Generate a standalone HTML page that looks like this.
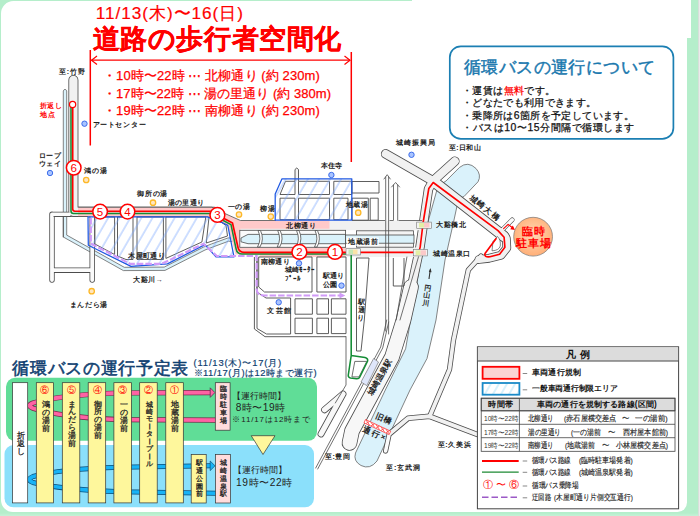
<!DOCTYPE html>
<html lang="ja">
<head>
<meta charset="utf-8">
<title>道路の歩行者空間化・循環バスの運行について</title>
<style>
html,body{margin:0;padding:0;}
body{width:700px;height:516px;overflow:hidden;background:#b5eecb;font-family:"Liberation Sans",sans-serif;}
#wrap{position:relative;width:700px;height:516px;overflow:hidden;background:linear-gradient(#b5eecb 0,#b5eecb 513px,#c6f2d7 516px);}
#paper{position:absolute;left:1.3px;top:0.7px;width:685.8px;height:511.7px;background:#fff;border-radius:12.5px 0 9.5px 12px;}
#edgeR{position:absolute;left:698.2px;top:0;width:1.8px;height:516px;background:linear-gradient(90deg,#cfd8d2,#f2f2f2);}
#paperTR{position:absolute;left:412px;top:0;width:278.6px;height:38px;background:#fff;}
svg#map{position:absolute;left:0;top:0;}
.t{position:absolute;white-space:nowrap;line-height:1;color:#111;}
.j{text-align:justify;text-align-last:justify;text-justify:inter-character;}
.b{font-weight:bold;}
.red{color:#ff0000;}
.v{writing-mode:vertical-rl;text-orientation:upright;}
</style>
</head>
<body>
<div id="wrap">
<div id="paper"></div>
<div id="paperTR"></div>
<div id="edgeR"></div>
<svg id="map" width="700" height="516" viewBox="0 0 700 516">
<defs>
<pattern id="hatch" width="9.6" height="12" patternUnits="userSpaceOnUse" patternTransform="rotate(30)">
<rect x="0" y="0" width="9.6" height="12" fill="#fff"/><line x1="1" y1="-1" x2="1" y2="13" stroke="#7fb0ff" stroke-width="0.75"/>
</pattern>
<pattern id="hatch2" width="7" height="12" patternUnits="userSpaceOnUse" patternTransform="rotate(30)">
<rect x="0" y="0" width="7" height="12" fill="#fff"/><line x1="1" y1="-1" x2="1" y2="13" stroke="#8fd6f5" stroke-width="0.7"/>
</pattern>
<pattern id="hatchT" width="9.6" height="12" patternUnits="userSpaceOnUse" patternTransform="rotate(30)"><line x1="1" y1="-1" x2="1" y2="13" stroke="#74a3ff" stroke-width="0.72"/></pattern>
<radialGradient id="pk" cx="50%" cy="45%" r="60%"><stop offset="0" stop-color="#ffd9b5"/><stop offset="1" stop-color="#ffab72"/></radialGradient>
</defs>
<!-- ===== rivers ===== -->
<g fill="#daf2fb" stroke="#666" stroke-width="0.8" stroke-linejoin="round">
<!-- Maruyama river -->
<path d="M446,181 L459.5,167.4 Q468,160.6 476,168.5 Q481.8,175 478,181.8 L464,196.5 L458.5,199 L454,220 L445,260 L436,320 L427,358.5 L410,390 L377,461 Q370,470 361,465.5 Q353,461 355.5,453 L385.3,390 L405.6,348.8 L412.4,310 L425.5,231 L438,186 Z"/>
<!-- Otani river west strip + diagonal -->
<path d="M63.3,91 Q65,87.5 66.7,91 L66.7,235.1 L124.3,267.3 L164.2,267.1 L203.7,247 L211.7,243.9 L228.1,237.9 L242.3,238.2 L242,242.3 L228.6,241.2 L212.9,247 L205,250 L165,270.4 L123.4,270.6 L63.3,237 Z"/>
</g>
<!-- ===== road casings ===== -->
<g fill="none" stroke="#4c4c4c" stroke-linecap="round" stroke-linejoin="round">
<path d="M73.4,80 L73.4,211.7 L214,211.7" stroke-width="10"/>
<path d="M52,214.3 L52,280 M92.2,217 L92.2,280 M52,270.2 L92.2,270.2 M52,214.4 L69,214.4" stroke-width="5.4"/>
<path d="M385.7,153.9 L433,181" stroke-width="9.6"/>
<path d="M433,181 L504,236.5" stroke-width="11.4"/>
<path d="M433,181 L454.8,161.3" stroke-width="9.6"/>
<path d="M433,181 L428.5,189 L420,247 L413,280 L405,315" stroke-width="9.4"/>
<path d="M503.3,228.8 L512.2,219.8" stroke-width="4.6"/>
<path d="M500,231.5 L506.3,238.2 L506.8,248 L501,255.3 L489,258.3 L479,259.5" stroke-width="8.8"/>
<path d="M481,256 L468.3,270 L453.5,340 L449.5,369.5 L429.7,416.3" stroke-width="5.3"/>
<path d="M429.7,416.3 L480,435.5 M429.7,416.3 L408,418.3 L390.5,433" stroke-width="5.6"/>
<path d="M389.3,433.5 L385.6,451" stroke-width="5.2"/>
<!-- station-side band -->
<path d="M411,287 L403.5,320 L392,357 L352,431 L349.5,443" stroke-width="15.6"/>
<path d="M343,394 L324.5,409.8 M343,394 L321,434" stroke-width="6.8"/>
</g>
<!-- horizontal band roads (casing as rect outlines) -->
<g fill="#f1f1f1" stroke="#4c4c4c" stroke-width="0.8">
<rect x="240.4" y="220.6" width="182" height="9.6" stroke="none"/>
<rect x="258" y="247.4" width="163" height="9.6" stroke="none"/>
</g>
<!-- ===== road fills ===== -->
<g fill="none" stroke="#f1f1f1" stroke-linecap="round" stroke-linejoin="round">
<path d="M73.4,80 L73.4,211.7 L214,211.7" stroke-width="8.4"/>
<path d="M52,214.3 L52,280 M92.2,217 L92.2,280 M52,270.2 L92.2,270.2 M52,214.4 L69,214.4" stroke-width="3.8" stroke="#fbfbfb"/>
<path d="M385.7,153.9 L433,181" stroke-width="8"/>
<path d="M433,181 L504,236.5" stroke-width="9.8"/>
<path d="M433,181 L454.8,161.3" stroke-width="8"/>
<path d="M433,181 L428.5,189 L420,247 L413,280 L405,315" stroke-width="7.8"/>
<path d="M503.3,228.8 L512.2,219.8" stroke-width="3.6" stroke="#fbfbfb"/>
<path d="M500,231.5 L506.3,238.2 L506.8,248 L501,255.3 L489,258.3 L479,259.5" stroke-width="7.2"/>
<path d="M481,256 L468.3,270 L453.5,340 L449.5,369.5 L429.7,416.3" stroke-width="3.7"/>
<path d="M429.7,416.3 L480,435.5 M429.7,416.3 L408,418.3 L390.5,433" stroke-width="4"/>
<path d="M389.3,433.5 L385.6,451" stroke-width="3.6" stroke="#fbfbfb"/>
<path d="M411,287 L403.5,320 L392,357 L352,431 L349.5,443" stroke-width="14" stroke="#f7f7f7"/>
<path d="M343,394 L324.5,409.8 M343,394 L321,434" stroke-width="5.2" stroke="#f8f8f8"/>
</g>
<!-- loop island -->
<path d="M493,241.5 L497.5,236.5 Q501,240 500.3,246 Q499,250.5 492,250.8 Z" fill="#fff" stroke="#555" stroke-width="0.7"/>
<!-- ===== pink pedestrian zones ===== -->
<path d="M78,207.4 L212,207.4 L224.6,213.6 L240.4,220.7 L329.5,220.7 L329.5,228.8 L240.4,228.8 L240.4,247.6 L345.5,247.6 L345.5,257 L260,257 L260,254.5 L235.5,254.5 L228,226 L208,216.5 L78,216.5 Z" fill="#ffc9c9"/>
<!-- gray edges around the pink / band roads -->
<g fill="none" stroke="#4c4c4c" stroke-width="0.8" stroke-linejoin="round">
<path d="M78.2,207.2 L212,207.2 L224.6,213.4 L240.4,220.5 L276,220.5"/>
<path d="M352,220.5 L385,220.5 M389.5,220.5 L393,220.5 M398.5,220.5 L422,220.5"/>
<path d="M53.5,216.5 L88,216.5"/>
</g>
<!-- Otani river central band -->
<g stroke="#4c4c4c" stroke-width="0.8">
<rect x="239.8" y="230.3" width="105.8" height="17" fill="#fbfbfb"/>
<path d="M241,238 L248,234.4 L345.6,234.4 L345.6,243.7 L248,243.7 L241,241.8 Z" fill="#daf2fb"/>
<path d="M258,230.5 Q262,239 257.5,247 L260,247 Q264.5,239 260.5,230.5 Z M277.7,230.5 Q281.7,239 277.2,247 L279.7,247 Q284.2,239 280.2,230.5 Z M296.5,230.5 Q300.5,239 296,247 L298.5,247 Q303,239 299,230.5 Z M315,230.5 Q319,239 314.5,247 L317,247 Q321.5,239 317.5,230.5 Z" fill="#fff"/>
<!-- east part -->
<rect x="356.5" y="230.8" width="57" height="16.4" fill="#f4f4f4"/>
<rect x="345.5" y="235" width="68.5" height="8.2" fill="#daf2fb"/>
</g>
<!-- blocks inside west hatched area -->
<g fill="#fff" stroke="#4c4c4c" stroke-width="0.9" stroke-linejoin="round">
<path d="M94.9,217 L114.6,217 L114.6,254.5 L94.9,244 Z"/>
<path d="M117.5,217 L133,217 L133,259.5 L126,259.5 L117.5,256 Z"/>
<path d="M137,217 L163.4,217 L163.4,259.5 L137,259.5 Z"/>
<path d="M165.9,217 L205.8,217 L201.9,242 L165.9,258.4 Z"/>
<path d="M209,217 L219.5,221 L226,225.5 L227.5,236 L206.3,243 Z" fill="none"/>
<!-- blocks in north hatched area -->
<path d="M285.5,181.3 L295,181.3 L295,194.5 L280,194.5 Z"/>
<rect x="298.5" y="181.3" width="31" height="13.2"/>
<rect x="333.8" y="181.3" width="18" height="13.2"/>
<rect x="280" y="198.2" width="15" height="21.5"/>
<rect x="298.5" y="198.2" width="31" height="21.5"/>
<rect x="333.8" y="198.2" width="14.2" height="21.5"/>
<!-- road stub going north -->
<path d="M295,181 L295,169.5 Q296.7,166.5 298.5,169.5 L298.5,181" fill="#f6f6f6"/>
<!-- blocks east of north area -->
<rect x="352" y="198.2" width="16.3" height="22"/>
<rect x="370.2" y="198.2" width="8" height="22"/>
<rect x="352" y="181.5" width="27" height="11.5"/>
<!-- south blocks -->
<path d="M258.7,257 L312,257 L312,292 L264.5,292 L258.7,287 Z"/>
<rect x="316.9" y="257" width="29.1" height="35"/>
<path d="M257,258 L257,292 L266,298 L290.6,298 L290.6,334 L266.5,334 L257,328.5 Z" fill="#fff"/>
<path d="M254.4,257 L254.4,329 L265,336.7 L346,336.7" fill="none"/>
<rect x="295" y="298.8" width="17.4" height="15.4"/><rect x="316.9" y="298.8" width="11.6" height="15.4"/><rect x="331.4" y="298.8" width="14.6" height="15.4"/>
<rect x="295" y="318.2" width="17.4" height="15.4"/><rect x="316.9" y="318.2" width="11.6" height="15.4"/><rect x="331.4" y="318.2" width="14.6" height="15.4"/>
<!-- blocks east of Eki-dori -->
<path d="M356.5,258 L369,258 L364.3,320 L361,351 L356.5,351 Z" fill="#fff"/>
<path d="M393.3,258 L393.3,286 L404,286 L404,258" fill="none"/>
</g>
<!-- ===== hatched restricted areas ===== -->
<g stroke="#2059e2" stroke-width="1.25" stroke-linejoin="round" fill="url(#hatchT)">
<path d="M88,216.8 L207.4,216.8 L221.5,222.3 L227.8,225.4 L234,256.9 L216,256.9 L205,244.6 L167.4,263.9 L131,266.4 L88.3,245.3 Z"/>
<path d="M275.2,220 L275.2,194 L282,178.8 L351.8,178.8 L351.8,220 Z"/>
</g>
<!-- thin misc lines -->
<g fill="none" stroke="#4c4c4c" stroke-width="0.8" stroke-linejoin="round" stroke-linecap="round">
<!-- up-arrow roads -->
<path d="M385.7,331 L385.7,177 M388.6,334 L388.6,177 M384,179 L387.2,174.7 L390.3,179"/>
<path d="M393.5,220.3 L393.5,185 M397.7,220.3 L397.7,185 M391.6,187 L395.6,182.5 L399.6,187"/>
<!-- railway double line -->
<path d="M386.7,320 L380.7,347 L315.7,468 M388.7,322 L382.7,348 L317.7,469"/>
<!-- station forecourt -->
<path d="M346,336.6 L346,385 L335.3,403"/>
<path d="M355.2,361.4 L366.8,361.4 L359,376.9 L352.3,376.9 Z"/>
<!-- west river bank road -->
<path d="M63.3,237 L63.3,216.5"/>
<path d="M418.5,256.8 L400,320 M406.9,257 L396.2,320"/>
</g>
<!-- station building -->
<path d="M373.6,358.5 L378.5,362 L366.8,385.6 L361,382 Z" fill="#dfe6fa" stroke="#777" stroke-width="0.7"/>
<!-- old bridge (closed) -->
<g stroke="#ff3b3b" stroke-width="0.8" fill="none">
<path d="M365.5,419.5 L390.7,431.2 L389.2,434.6 L364,422.9 Z" fill="#fff" stroke="#ff3b3b"/>
<path d="M366,420 L369.5,425 M369.5,421.5 L366,423.5 M371,422.3 L374.5,427.3 M374.5,423.8 L371,425.8 M376,424.6 L379.5,429.6 M379.5,426.1 L376,428.1 M381,426.9 L384.5,431.9 M384.5,428.4 L381,430.4 M386,429.2 L389,433.8 M389.5,430.7 L386,432.7"/>
</g>
<!-- ===== detour (purple dashed) ===== -->
<path d="M90.8,218 L90.8,243.5 L130,263.8 L161.8,263.8 L203.4,243.8 L216.8,256 L256.6,256 L256.6,289 Q257,295.5 264,295.5 L341,295.5" fill="none" stroke="#d09af8" stroke-width="2.2" stroke-dasharray="6.5 2"/>
<path d="M339.5,292.6 L345.3,295.5 L339.5,298.4 Z" fill="#d09af8"/>
<!-- ===== bus routes ===== -->
<g fill="none" stroke-linejoin="round" stroke-linecap="round">
<path d="M71,107 L71,211 Q71,213.4 73.4,213.4 L213,213.4 L222.3,220 L231,224.6 L236.1,248.8 Q237,253.9 242,253.9 L351.2,253.9 L351.2,355.6 L365,357.5 Q368.5,358.5 367.4,361.5 L359.8,377 Q359,379 356.5,378.8 L350.5,378 Q348,377.5 348.3,375 L351.2,355.6" stroke="#148c35" stroke-width="1.55"/>
<path d="M72.7,107 L72.7,209 Q72.7,211.2 75,211.2 L213,211.2 L224,218.4 L232.5,223 L238,247.5 Q239,252.3 244,252.3 L415,252.3 Q419.5,252.3 420.2,247 L423.2,222 L428.8,188.5 L433.2,182.5 L498,230.6 L504.1,237.2 L504.9,247.3 L499.6,254.3 L490,256.8 Q484,257.5 485,253.5 L496,238.7" stroke="#ff0000" stroke-width="1.65"/>
<path d="M503.6,228.6 L508.1,224.4 L512.8,228" stroke="#ff0000" stroke-width="1.2"/>
</g>
<path d="M512.8,225.5 L515,230 L510.2,229.3 Z" fill="#ff0000"/>
<circle cx="72.6" cy="104.5" r="3.1" fill="#fff" stroke="#ff0000" stroke-width="1.2"/>
<!-- bus stop circles -->
<g fill="#fff" stroke="#ff0000" stroke-width="1.5">
<circle cx="73.7" cy="167.7" r="7.3"/><circle cx="100.1" cy="211.6" r="7.3"/><circle cx="127.5" cy="211.6" r="7.3"/>
<circle cx="217.4" cy="214.9" r="7.4"/><circle cx="299.4" cy="251.9" r="7.4"/><circle cx="335" cy="251.9" r="7.4"/>
</g>
<!-- bus stop small markers -->
<g stroke="#777" stroke-width="0.6">
<rect x="346" y="248.7" width="14.5" height="6.3" fill="#f3f3f3"/><rect x="348.5" y="249.5" width="4.5" height="4.7" fill="#c6e8b5" stroke="none"/><rect x="353" y="249.5" width="4.5" height="4.7" fill="#fbe3a8" stroke="none"/>
<rect x="416.7" y="222.1" width="14.7" height="6.2" fill="#f3f3f3"/><rect x="419" y="222.9" width="5" height="4.6" fill="#e4efa6" stroke="none"/><rect x="424" y="222.9" width="5.5" height="4.6" fill="#fbc9c9" stroke="none"/>
<rect x="413.3" y="249.5" width="14.4" height="6.4" fill="#f3f3f3"/><rect x="415.6" y="250.3" width="5" height="4.8" fill="#e4efa6" stroke="none"/><rect x="420.6" y="250.3" width="5.4" height="4.8" fill="#fbc9c9" stroke="none"/>
</g>
<!-- facility dots -->
<g stroke-width="0.9">
<g fill="#a9c4ff" stroke="#2f62e8">
<circle cx="84.5" cy="123.7" r="2.7"/><circle cx="50" cy="173" r="2.7"/><circle cx="331.4" cy="175" r="2.7"/><circle cx="411.5" cy="154.8" r="2.7"/>
<circle cx="299" cy="263.3" r="2.7"/><circle cx="341.5" cy="285.6" r="2.7"/><circle cx="278.7" cy="302.3" r="2.7"/>
</g>
<g fill="#ffe6bf" stroke="#fdb827" stroke-width="1.3">
<circle cx="86.2" cy="180" r="2.7"/><circle cx="153" cy="202.7" r="2.7"/><circle cx="239" cy="214.5" r="2.7"/><circle cx="270.8" cy="216.6" r="2.7"/>
<circle cx="358.2" cy="212.7" r="2.7"/><circle cx="91.7" cy="291.2" r="2.7"/>
</g>
</g>
<!-- temporary parking circle -->
<circle cx="533.1" cy="236.7" r="19.4" fill="url(#pk)" stroke="#777" stroke-width="0.7"/>
<!-- big red dimension arrow -->
<g stroke="#ff0000" fill="none" stroke-width="1.5">
<path d="M90.3,50 L90.3,145.5 M351.3,52 L351.3,162"/>
<path d="M91.5,60.2 L350,60.2" stroke-width="1.2"/>
<path d="M97,56 L91.5,60.2 L97,64.4 M344.5,56 L350,60.2 L344.5,64.4" stroke-width="1.2"/>
</g>
<rect x="346.8" y="237.6" width="32" height="8" fill="#fff"/>
<!-- circled stop numbers on map -->
<g font-family="Liberation Sans, sans-serif" font-size="11.6" fill="#ff0000" text-anchor="middle">
<text x="73.7" y="171.8">6</text><text x="100.1" y="215.7">5</text><text x="127.5" y="215.7">4</text>
<text x="217.4" y="219">3</text><text x="299.4" y="256">2</text><text x="335" y="256">1</text>
</g>
<!-- Maruyama river flow arrow -->
<path d="M430.3,269.5 L429,279" stroke="#333" stroke-width="1.1" fill="none"/><path d="M428.8,272 L430.5,268 L431.6,272.2 Z" fill="#333"/>
<!-- ===== timetable ===== -->
<rect x="6" y="377.8" width="311" height="63" rx="9" fill="#60dd97"/>
<rect x="4.5" y="445" width="309.5" height="62.3" rx="9" fill="#8be0fb"/>
<!-- pink loop (臨時駐車場 route) -->
<g fill="none" stroke-linejoin="round">
<path d="M210.5,392.6 L120,393 Q60,394.8 33,403 Q26,405.6 33,408.2 Q60,417 120,419.7 L216,420.1" stroke="#7a2a4a" stroke-width="5.2"/>
<path d="M210.5,392.6 L120,393 Q60,394.8 33,403 Q26,405.6 33,408.2 Q60,417 120,419.7 L216,420.1" stroke="#ff62a4" stroke-width="3.8"/>
</g>
<path d="M210.2,387.8 L214.9,392.6 L210.2,397.4 Z" fill="#ff62a4" stroke="#4a2a4a" stroke-width="0.7"/>
<!-- blue loop (城崎温泉駅 route) -->
<g fill="none" stroke-linejoin="round">
<path d="M210.5,465.8 L120,467.2 Q60,468.8 33,476.5 Q25.5,479.5 33,482.5 Q60,489.5 120,491.8 L216,493.2" stroke="#0b4f7a" stroke-width="5"/>
<path d="M210.5,465.8 L120,467.2 Q60,468.8 33,476.5 Q25.5,479.5 33,482.5 Q60,489.5 120,491.8 L216,493.2" stroke="#18b3f6" stroke-width="3.6"/>
</g>
<path d="M210.2,461 L215,465.8 L210.2,470.6 Z" fill="#18b3f6" stroke="#0b4f7a" stroke-width="0.7"/>
<g stroke="#333" stroke-width="0.7">
<rect x="12.6" y="382.7" width="15.1" height="120.2" fill="#fff"/>
<g fill="#fef79c">
<rect x="36.3" y="382.7" width="17.2" height="120.2"/><rect x="62.3" y="382.7" width="17.5" height="120.2"/><rect x="88.2" y="382.7" width="17.5" height="120.2"/>
<rect x="113.9" y="382.7" width="17.5" height="120.2"/><rect x="139.7" y="382.7" width="17.5" height="120.2"/><rect x="165.8" y="382.7" width="17.5" height="120.2"/>
<rect x="191.2" y="454.5" width="15" height="48.5"/>
<path d="M251.2,435.7 L275,435.7 L263,454.5 Z"/>
</g>
<rect x="215.3" y="382.7" width="14.8" height="47.5" fill="#ffdcdc"/>
<rect x="215.5" y="454.5" width="15" height="48.5" fill="#ffdcdc"/>
</g>
<g font-family="Liberation Sans, sans-serif" font-size="9.2" fill="#ff0000" text-anchor="middle">
<text x="44.9" y="393.3">⑥</text><text x="71.1" y="393.3">⑤</text><text x="97" y="393.3">④</text><text x="122.7" y="393.3">③</text><text x="148.5" y="393.3">②</text><text x="174.6" y="393.3">①</text>
</g>
<!-- ===== legend ===== -->
<rect x="477.4" y="346.8" width="201.2" height="162" fill="#fff" stroke="#444" stroke-width="1"/>
<rect x="477.9" y="347.3" width="200.2" height="13.5" fill="#dcdcdc"/>
<line x1="477.4" y1="361" x2="678.6" y2="361" stroke="#444" stroke-width="1"/>
<rect x="482.6" y="366.8" width="36.8" height="12" fill="#fbd3d3" stroke="#ff0000" stroke-width="1.8"/>
<rect x="482.6" y="383" width="36.8" height="11.7" fill="url(#hatch2)" stroke="#1a8ac8" stroke-width="1.8"/>
<g stroke="#444" stroke-width="0.8" fill="none">
<rect x="481.2" y="398.2" width="193.8" height="12.6" fill="#dcdcdc"/>
<rect x="481.2" y="398.2" width="193.8" height="53.1"/>
<path d="M481.2,410.8 L675,410.8 M481.2,424.3 L675,424.3 M481.2,437.7 L675,437.7 M519.4,398.2 L519.4,451.3"/>
<path d="M522.7,373.5 L527.2,373.5 M522.7,389.8 L527.2,389.8 M522.7,461 L527.2,461 M522.7,472.3 L527.2,472.3 M522.7,486 L527.2,486 M522.7,497.8 L527.2,497.8" stroke="#555" stroke-width="0.7"/>
</g>
<line x1="482" y1="461" x2="518.7" y2="461" stroke="#ff0000" stroke-width="1.8"/>
<line x1="482" y1="472.1" x2="518.7" y2="472.1" stroke="#1c8a33" stroke-width="1.3"/>
<line x1="482" y1="497.3" x2="517" y2="497.3" stroke="#9b59c6" stroke-width="1.5" stroke-dasharray="6.5 3"/>
<!-- info box frame -->
<rect x="449.8" y="46.3" width="223.6" height="92.6" rx="11" fill="none" stroke="#1b7fb3" stroke-width="1.7"/>
</svg>
<div class="t" style="left:95.8px;top:4.8px;font-size:17.2px;color:#ff0000;-webkit-text-stroke:0.2px currentColor;letter-spacing:0.95px;">11/13(木)〜16(日)</div>
<div class="t j" style="left:92.6px;top:26.3px;font-size:26.6px;color:#ff0000;font-weight:bold;-webkit-text-stroke:0.3px currentColor;width:248.8px;">道路の歩行者空間化</div>
<div class="t" style="left:103px;top:69px;font-size:13px;color:#ff0000;-webkit-text-stroke:0.25px currentColor;letter-spacing:0.10px;">・10時〜22時 ⋯ 北柳通り (約 230m)</div>
<div class="t" style="left:103px;top:86.5px;font-size:13px;color:#ff0000;-webkit-text-stroke:0.25px currentColor;letter-spacing:0.02px;">・17時〜22時 ⋯ 湯の里通り (約 380m)</div>
<div class="t" style="left:103px;top:104px;font-size:13px;color:#ff0000;-webkit-text-stroke:0.25px currentColor;letter-spacing:0.10px;">・19時〜22時 ⋯ 南柳通り (約 230m)</div>
<div class="t j" style="left:464px;top:58.6px;font-size:17.4px;color:#1a78ae;-webkit-text-stroke:0.45px currentColor;width:191px;">循環バスの運行について</div>
<div class="t j" style="left:462px;top:85.8px;font-size:10.4px;color:#111;-webkit-text-stroke:0.25px currentColor;width:93px;">・運賃は<span style="color:#ff0000">無料</span>です。</div>
<div class="t j" style="left:462px;top:98.4px;font-size:10.4px;color:#111;-webkit-text-stroke:0.25px currentColor;width:134px;">・どなたでも利用できます。</div>
<div class="t" style="left:462px;top:110.9px;font-size:10.4px;color:#111;-webkit-text-stroke:0.25px currentColor;letter-spacing:0.37px;">・乗降所は6箇所を予定しています。</div>
<div class="t" style="left:462px;top:123.2px;font-size:10.4px;color:#111;-webkit-text-stroke:0.25px currentColor;letter-spacing:0.55px;">・バスは10〜15分間隔で循環します</div>
<div class="t" style="left:58.5px;top:67.5px;font-size:7px;color:#222;font-weight:bold;letter-spacing:1.16px;">至:竹野</div>
<div class="t j" style="left:40px;top:101.5px;font-size:7px;color:#ff0000;font-weight:bold;width:21.5px;">折返し</div>
<div class="t j" style="left:40px;top:110.5px;font-size:7px;color:#ff0000;font-weight:bold;width:14.5px;">地点</div>
<div class="t j" style="left:92.5px;top:120.5px;font-size:7.4px;color:#222;font-weight:bold;width:53px;">アートセンター</div>
<div class="t j" style="left:38.7px;top:151.5px;font-size:7.3px;color:#222;font-weight:bold;width:22.5px;">ロープ</div>
<div class="t j" style="left:38.7px;top:160px;font-size:7.3px;color:#222;font-weight:bold;width:22.5px;">ウェイ</div>
<div class="t j" style="left:83.7px;top:167px;font-size:7.49px;color:#222;font-weight:bold;width:23.5px;">鴻の湯</div>
<div class="t j" style="left:137px;top:190px;font-size:7.49px;color:#222;font-weight:bold;width:30.3px;">御所の湯</div>
<div class="t j" style="left:167.5px;top:199px;font-size:7.3px;color:#222;font-weight:bold;width:36.5px;">湯の里通り</div>
<div class="t j" style="left:227.5px;top:203px;font-size:7.49px;color:#222;font-weight:bold;width:22.8px;">一の湯</div>
<div class="t j" style="left:260px;top:205px;font-size:7.3px;color:#222;font-weight:bold;width:14.8px;">柳湯</div>
<div class="t j" style="left:320.6px;top:163.3px;font-size:6.8px;color:#222;font-weight:bold;width:21px;">本住寺</div>
<div class="t j" style="left:346.3px;top:200.7px;font-size:7px;color:#222;font-weight:bold;width:21.3px;">地蔵湯</div>
<div class="t j" style="left:285.9px;top:222px;font-size:7.4px;color:#222;font-weight:bold;width:30.4px;">北柳通り</div>
<div class="t j" style="left:347.8px;top:237.8px;font-size:7.4px;color:#222;font-weight:bold;width:30.2px;">地蔵湯前</div>
<div class="t j" style="left:260.7px;top:257.8px;font-size:7.2px;color:#222;font-weight:bold;width:29.2px;">南柳通り</div>
<div class="t j" style="left:285px;top:267.3px;font-size:6.6px;color:#222;font-weight:bold;width:30px;">城崎ﾓｰﾀｰ</div>
<div class="t" style="left:285px;top:275.8px;font-size:6.6px;color:#222;font-weight:bold;letter-spacing:-0.25px;">ﾌﾟｰﾙ</div>
<div class="t j" style="left:322.7px;top:273.2px;font-size:7.1px;color:#222;font-weight:bold;width:21.5px;">駅通り</div>
<div class="t j" style="left:322.7px;top:281.7px;font-size:7.1px;color:#222;font-weight:bold;width:14.5px;">公園</div>
<div class="t j" style="left:267.4px;top:307px;font-size:7.49px;color:#222;font-weight:bold;width:23.5px;">文芸館</div>
<div class="t" style="left:356.8px;top:297.5px;font-size:7px;color:#222;font-weight:bold;line-height:7.83px;width:9px;text-align:center;white-space:normal;transform:rotate(4deg);transform-origin:50% 50%;">駅<br>通<br>り</div>
<div class="t j" style="left:128.2px;top:251.7px;font-size:7.2px;color:#222;font-weight:bold;width:36.5px;">木屋町通り</div>
<div class="t j" style="left:133px;top:276px;font-size:7.3px;color:#222;font-weight:bold;width:29.8px;">大谿川→</div>
<div class="t j" style="left:69.5px;top:300.7px;font-size:7.4px;color:#222;font-weight:bold;width:37.7px;">まんだら湯</div>
<div class="t j" style="left:396.4px;top:139.3px;font-size:7.49px;color:#222;font-weight:bold;width:38.4px;">城崎振興局</div>
<div class="t" style="left:448.7px;top:144.5px;font-size:6.9px;color:#222;font-weight:bold;letter-spacing:0.44px;">至:日和山</div>
<div class="t j" style="left:436px;top:221.3px;font-size:7.4px;color:#222;font-weight:bold;width:29.8px;">大谿橋北</div>
<div class="t j" style="left:433px;top:249.7px;font-size:7.4px;color:#222;font-weight:bold;width:37.2px;">城崎温泉口</div>
<div class="t j" style="left:470.3px;top:192.6px;font-size:8px;color:#222;font-weight:bold;width:36px;transform:rotate(38deg);transform-origin:0 50%;">城崎大橋</div>
<div class="t j" style="left:522.4px;top:226px;font-size:11.2px;color:#ff0000;font-weight:bold;width:22.6px;">臨時</div>
<div class="t j" style="left:516.4px;top:237.7px;font-size:11.2px;color:#ff0000;font-weight:bold;width:34.2px;">駐車場</div>
<div class="t" style="left:421.9px;top:283.5px;font-size:7px;color:#222;font-weight:bold;line-height:8.00px;width:9px;text-align:center;white-space:normal;transform:rotate(8deg);transform-origin:50% 50%;">円<br>山<br>川</div>
<div class="t j" style="left:370.2px;top:391.3px;font-size:8px;color:#222;font-weight:bold;width:40px;transform:rotate(-59.5deg);transform-origin:0 50%;">城崎温泉駅</div>
<div class="t j" style="left:376.3px;top:411.6px;font-size:8px;color:#222;font-weight:bold;width:16px;transform:rotate(23deg);transform-origin:0 50%;">旧橋</div>
<div class="t j" style="left:362.7px;top:424.6px;font-size:8px;color:#222;font-weight:bold;width:24px;transform:rotate(23deg);transform-origin:0 50%;">通行×</div>
<div class="t" style="left:325px;top:452.5px;font-size:7px;color:#222;font-weight:bold;letter-spacing:0.54px;">至:豊岡</div>
<div class="t" style="left:386.2px;top:464px;font-size:7.2px;color:#222;font-weight:bold;letter-spacing:0.76px;">至:玄武洞</div>
<div class="t" style="left:437.5px;top:441px;font-size:7.2px;color:#222;font-weight:bold;letter-spacing:0.66px;">至:久美浜</div>
<div class="t j" style="left:12.3px;top:359.8px;font-size:17.4px;color:#103f70;-webkit-text-stroke:0.55px currentColor;width:176px;">循環バスの運行予定表</div>
<div class="t" style="left:193.5px;top:357.5px;font-size:9.4px;color:#103f70;-webkit-text-stroke:0.2px currentColor;letter-spacing:0.85px;">(11/13(木)〜17(月)</div>
<div class="t" style="left:193.5px;top:367.8px;font-size:9.4px;color:#103f70;-webkit-text-stroke:0.2px currentColor;letter-spacing:0.50px;">※11/17(月)は12時まで運行)</div>
<div class="t" style="left:16.6px;top:431.5px;font-size:7.7px;color:#222;-webkit-text-stroke:0.28px currentColor;line-height:8.00px;width:9.7px;text-align:center;white-space:normal;">折<br>返<br>し</div>
<div class="t" style="left:41px;top:400.5px;font-size:7.6px;color:#222;-webkit-text-stroke:0.28px currentColor;line-height:8.00px;width:9.6px;text-align:center;white-space:normal;">鴻<br>の<br>湯<br>前</div>
<div class="t" style="left:67.3px;top:400.5px;font-size:7.6px;color:#222;-webkit-text-stroke:0.28px currentColor;line-height:7.83px;width:9.6px;text-align:center;white-space:normal;">ま<br>ん<br>だ<br>ら<br>湯<br>前</div>
<div class="t" style="left:93.1px;top:400.5px;font-size:7.6px;color:#222;-webkit-text-stroke:0.28px currentColor;line-height:7.90px;width:9.6px;text-align:center;white-space:normal;">御<br>所<br>の<br>湯<br>前</div>
<div class="t" style="left:118.8px;top:400.5px;font-size:7.6px;color:#222;-webkit-text-stroke:0.28px currentColor;line-height:8.00px;width:9.6px;text-align:center;white-space:normal;">一<br>の<br>湯<br>前</div>
<div class="t" style="left:144.6px;top:400.5px;font-size:7.4px;color:#222;-webkit-text-stroke:0.28px currentColor;line-height:7.44px;width:9.4px;text-align:center;white-space:normal;">城<br>崎<br>モ<br><span style="display:inline-block;transform:rotate(90deg)">ー</span><br>タ<br><span style="display:inline-block;transform:rotate(90deg)">ー</span><br>プ<br><span style="display:inline-block;transform:rotate(90deg)">ー</span><br>ル</div>
<div class="t" style="left:170.7px;top:400.5px;font-size:7.6px;color:#222;-webkit-text-stroke:0.28px currentColor;line-height:8.00px;width:9.6px;text-align:center;white-space:normal;">地<br>蔵<br>湯<br>前</div>
<div class="t" style="left:219px;top:385px;font-size:7.4px;color:#222;-webkit-text-stroke:0.28px currentColor;line-height:7.90px;width:9.4px;text-align:center;white-space:normal;">臨<br>時<br>駐<br>車<br>場</div>
<div class="t j" style="left:231.5px;top:391.7px;font-size:8.6px;color:#222;width:54px;">【運行時間】</div>
<div class="t" style="left:235.7px;top:403px;font-size:10.2px;color:#222;letter-spacing:0.50px;">8時〜19時</div>
<div class="t" style="left:232.4px;top:416px;font-size:8px;color:#222;letter-spacing:0.85px;">※11/17は12時まで</div>
<div class="t" style="left:195px;top:458.8px;font-size:7.4px;color:#222;-webkit-text-stroke:0.28px currentColor;line-height:7.90px;width:9.4px;text-align:center;white-space:normal;">駅<br>通<br>公<br>園<br>前</div>
<div class="t" style="left:219.3px;top:458.8px;font-size:7.4px;color:#222;-webkit-text-stroke:0.28px currentColor;line-height:7.90px;width:9.4px;text-align:center;white-space:normal;">城<br>崎<br>温<br>泉<br>駅</div>
<div class="t j" style="left:232.5px;top:466px;font-size:8.6px;color:#222;width:54px;">【運行時間】</div>
<div class="t" style="left:236px;top:478px;font-size:10.2px;color:#222;letter-spacing:0.62px;">19時〜22時</div>
<div class="t" style="left:566px;top:350px;font-size:9.8px;color:#111;font-weight:bold;letter-spacing:0.59px;">凡 例</div>
<div class="t j" style="left:532px;top:368.7px;font-size:8.2px;color:#111;font-weight:bold;width:49px;">車両通行規制</div>
<div class="t" style="left:532px;top:385.3px;font-size:8.2px;color:#111;font-weight:bold;transform:scaleX(0.972);transform-origin:0 50%;">一般車両通行制限エリア</div>
<div class="t j" style="left:488.4px;top:400.7px;font-size:8.2px;color:#111;font-weight:bold;width:24.8px;">時間帯</div>
<div class="t" style="left:536.9px;top:400.7px;font-size:8.2px;color:#111;font-weight:bold;letter-spacing:0.16px;">車両の通行を規制する路線(区間)</div>
<div class="t" style="left:484px;top:415.3px;font-size:7px;color:#333;transform:scaleX(0.943);transform-origin:0 50%;">10時〜22時</div>
<div class="t" style="left:484px;top:428.8px;font-size:7px;color:#333;transform:scaleX(0.943);transform-origin:0 50%;">17時〜22時</div>
<div class="t" style="left:484px;top:442px;font-size:7px;color:#333;transform:scaleX(0.943);transform-origin:0 50%;">19時〜22時</div>
<div class="t j" style="left:482.5px;top:480.3px;font-size:10.4px;color:#ff0000;width:36px;">①〜⑥</div>
<div class="t" style="left:528px;top:415.2px;font-size:7.5px;color:#222;-webkit-text-stroke:0.15px currentColor;transform:scaleX(0.803);transform-origin:0 50%;">北柳通り</div>
<div class="t" style="left:563.7px;top:415.2px;font-size:7.5px;color:#222;-webkit-text-stroke:0.15px currentColor;transform:scaleX(0.894);transform-origin:0 50%;">(赤石屋横交差点</div>
<div class="t" style="left:621.5px;top:415.2px;font-size:7.5px;color:#222;-webkit-text-stroke:0.15px currentColor;transform:scaleX(0.938);transform-origin:0 50%;">〜</div>
<div class="t" style="left:635px;top:415.2px;font-size:7.5px;color:#222;-webkit-text-stroke:0.15px currentColor;transform:scaleX(0.942);transform-origin:0 50%;">一の湯前)</div>
<div class="t" style="left:528px;top:428.7px;font-size:7.5px;color:#222;-webkit-text-stroke:0.15px currentColor;transform:scaleX(0.825);transform-origin:0 50%;">湯の里通り</div>
<div class="t" style="left:571px;top:428.7px;font-size:7.5px;color:#222;-webkit-text-stroke:0.15px currentColor;transform:scaleX(0.870);transform-origin:0 50%;">(一の湯前</div>
<div class="t" style="left:608px;top:428.7px;font-size:7.5px;color:#222;-webkit-text-stroke:0.15px currentColor;transform:scaleX(0.938);transform-origin:0 50%;">〜</div>
<div class="t" style="left:622.5px;top:428.7px;font-size:7.5px;color:#222;-webkit-text-stroke:0.15px currentColor;transform:scaleX(0.891);transform-origin:0 50%;">西村屋本館前)</div>
<div class="t" style="left:528px;top:441.9px;font-size:7.5px;color:#222;-webkit-text-stroke:0.15px currentColor;transform:scaleX(0.803);transform-origin:0 50%;">南柳通り</div>
<div class="t" style="left:565px;top:441.9px;font-size:7.5px;color:#222;-webkit-text-stroke:0.15px currentColor;transform:scaleX(0.870);transform-origin:0 50%;">(地蔵湯前</div>
<div class="t" style="left:602px;top:441.9px;font-size:7.5px;color:#222;-webkit-text-stroke:0.15px currentColor;transform:scaleX(0.938);transform-origin:0 50%;">〜</div>
<div class="t" style="left:615.5px;top:441.9px;font-size:7.5px;color:#222;-webkit-text-stroke:0.15px currentColor;transform:scaleX(0.889);transform-origin:0 50%;">小林屋横交差点)</div>
<div class="t" style="left:532px;top:457.2px;font-size:7.5px;color:#222;-webkit-text-stroke:0.15px currentColor;transform:scaleX(0.812);transform-origin:0 50%;">循環バス路線</div>
<div class="t" style="left:578.7px;top:457.2px;font-size:7.5px;color:#222;-webkit-text-stroke:0.15px currentColor;transform:scaleX(0.882);transform-origin:0 50%;">(臨時駐車場発着)</div>
<div class="t" style="left:532px;top:468.7px;font-size:7.5px;color:#222;-webkit-text-stroke:0.15px currentColor;transform:scaleX(0.812);transform-origin:0 50%;">循環バス路線</div>
<div class="t" style="left:578.7px;top:468.7px;font-size:7.5px;color:#222;-webkit-text-stroke:0.15px currentColor;transform:scaleX(0.882);transform-origin:0 50%;">(城崎温泉駅発着)</div>
<div class="t" style="left:532px;top:482.2px;font-size:7.5px;color:#222;-webkit-text-stroke:0.15px currentColor;transform:scaleX(0.834);transform-origin:0 50%;">循環バス乗降場</div>
<div class="t" style="left:532px;top:494px;font-size:7.5px;color:#222;-webkit-text-stroke:0.15px currentColor;transform:scaleX(0.792);transform-origin:0 50%;">迂回路</div>
<div class="t" style="left:553.7px;top:494px;font-size:7.5px;color:#222;-webkit-text-stroke:0.15px currentColor;transform:scaleX(0.847);transform-origin:0 50%;">(木屋町通り片側交互通行)</div>
</div>
</body>
</html>
